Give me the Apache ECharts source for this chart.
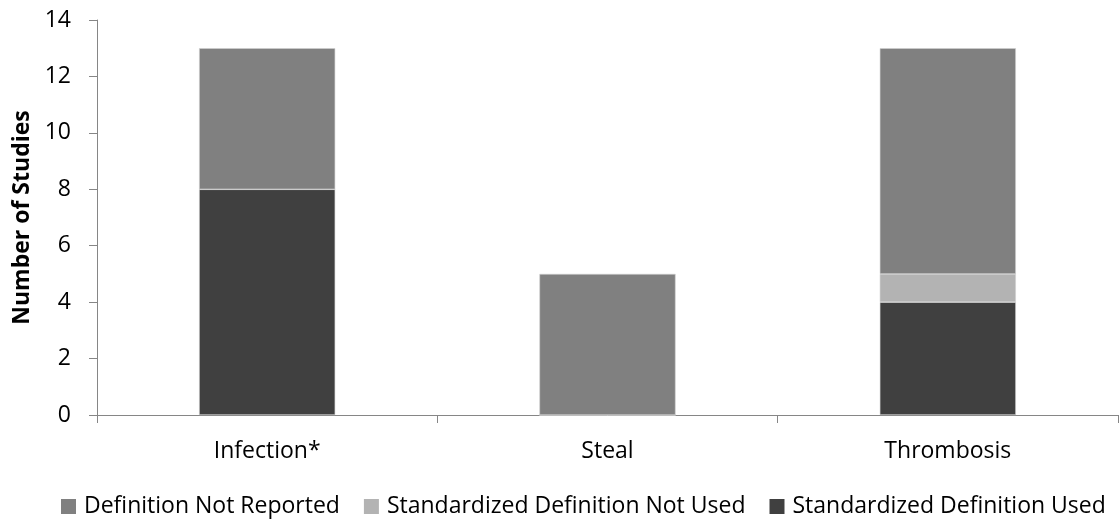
<!DOCTYPE html>
<html><head><meta charset="utf-8">
<script src="https://cdn.jsdelivr.net/npm/echarts@6/dist/echarts.min.js"></script>
<style>html,body{margin:0;padding:0;background:#fff}#c{width:1120px;height:520px}</style>
</head><body><div id="c"></div>
<script>
const categories = ['Infection*', 'Steal', 'Thrombosis'];
const usedValues = [8, 0, 4];
const notUsedValues = [0, 0, 1];
const notReportedValues = [5, 5, 8];
const yTicks = [0, 2, 4, 6, 8, 10, 12, 14];

const font = '"Open Sans", sans-serif';
const fs = 23;
const chart = echarts.init(document.getElementById('c'));
const base = {type: 'bar', stack: 's', barWidth: '40%', itemStyle: {borderColor: '#d0d0d0', borderWidth: 0.6}};
chart.setOption({
  animation: false,
  grid: {left: 97, right: 2, top: 20, bottom: 105},
  legend: {
    top: 490, left: 56, itemWidth: 15, itemHeight: 15, itemGap: 24,
    icon: 'rect',
    itemStyle: {borderWidth: 0},
    textStyle: {fontFamily: font, fontSize: fs, color: '#000', padding: [0, 0, 0, 3]},
    data: ['Definition Not Reported', 'Standardized Definition Not Used', 'Standardized Definition Used']
  },
  xAxis: {
    type: 'category', data: categories,
    axisLine: {lineStyle: {color: '#868686', width: 1}},
    axisTick: {show: true, length: 8, alignWithLabel: false, lineStyle: {color: '#868686'}},
    axisLabel: {fontFamily: font, fontSize: fs, color: '#000', margin: 25}
  },
  yAxis: {
    type: 'value', min: 0, max: 14, interval: 2,
    name: 'Number of Studies', nameLocation: 'middle', nameGap: 57,
    nameTextStyle: {fontFamily: font, fontSize: fs, fontWeight: 'bold', color: '#000'},
    axisLine: {show: true, lineStyle: {color: '#868686', width: 1}},
    axisTick: {show: true, length: 8, inside: false, lineStyle: {color: '#868686'}},
    splitLine: {show: false},
    axisLabel: {fontFamily: font, fontSize: fs, color: '#000', margin: 26,
      formatter: v => yTicks.includes(v) ? String(v) : ''}
  },
  series: [
    Object.assign({}, base, {name: 'Standardized Definition Used', data: usedValues, itemStyle: Object.assign({}, base.itemStyle, {color: '#404040'})}),
    Object.assign({}, base, {name: 'Standardized Definition Not Used', data: notUsedValues, itemStyle: Object.assign({}, base.itemStyle, {color: '#b3b3b3'})}),
    Object.assign({}, base, {name: 'Definition Not Reported', data: notReportedValues, itemStyle: Object.assign({}, base.itemStyle, {color: '#808080'})})
  ]
});
</script></body></html>
